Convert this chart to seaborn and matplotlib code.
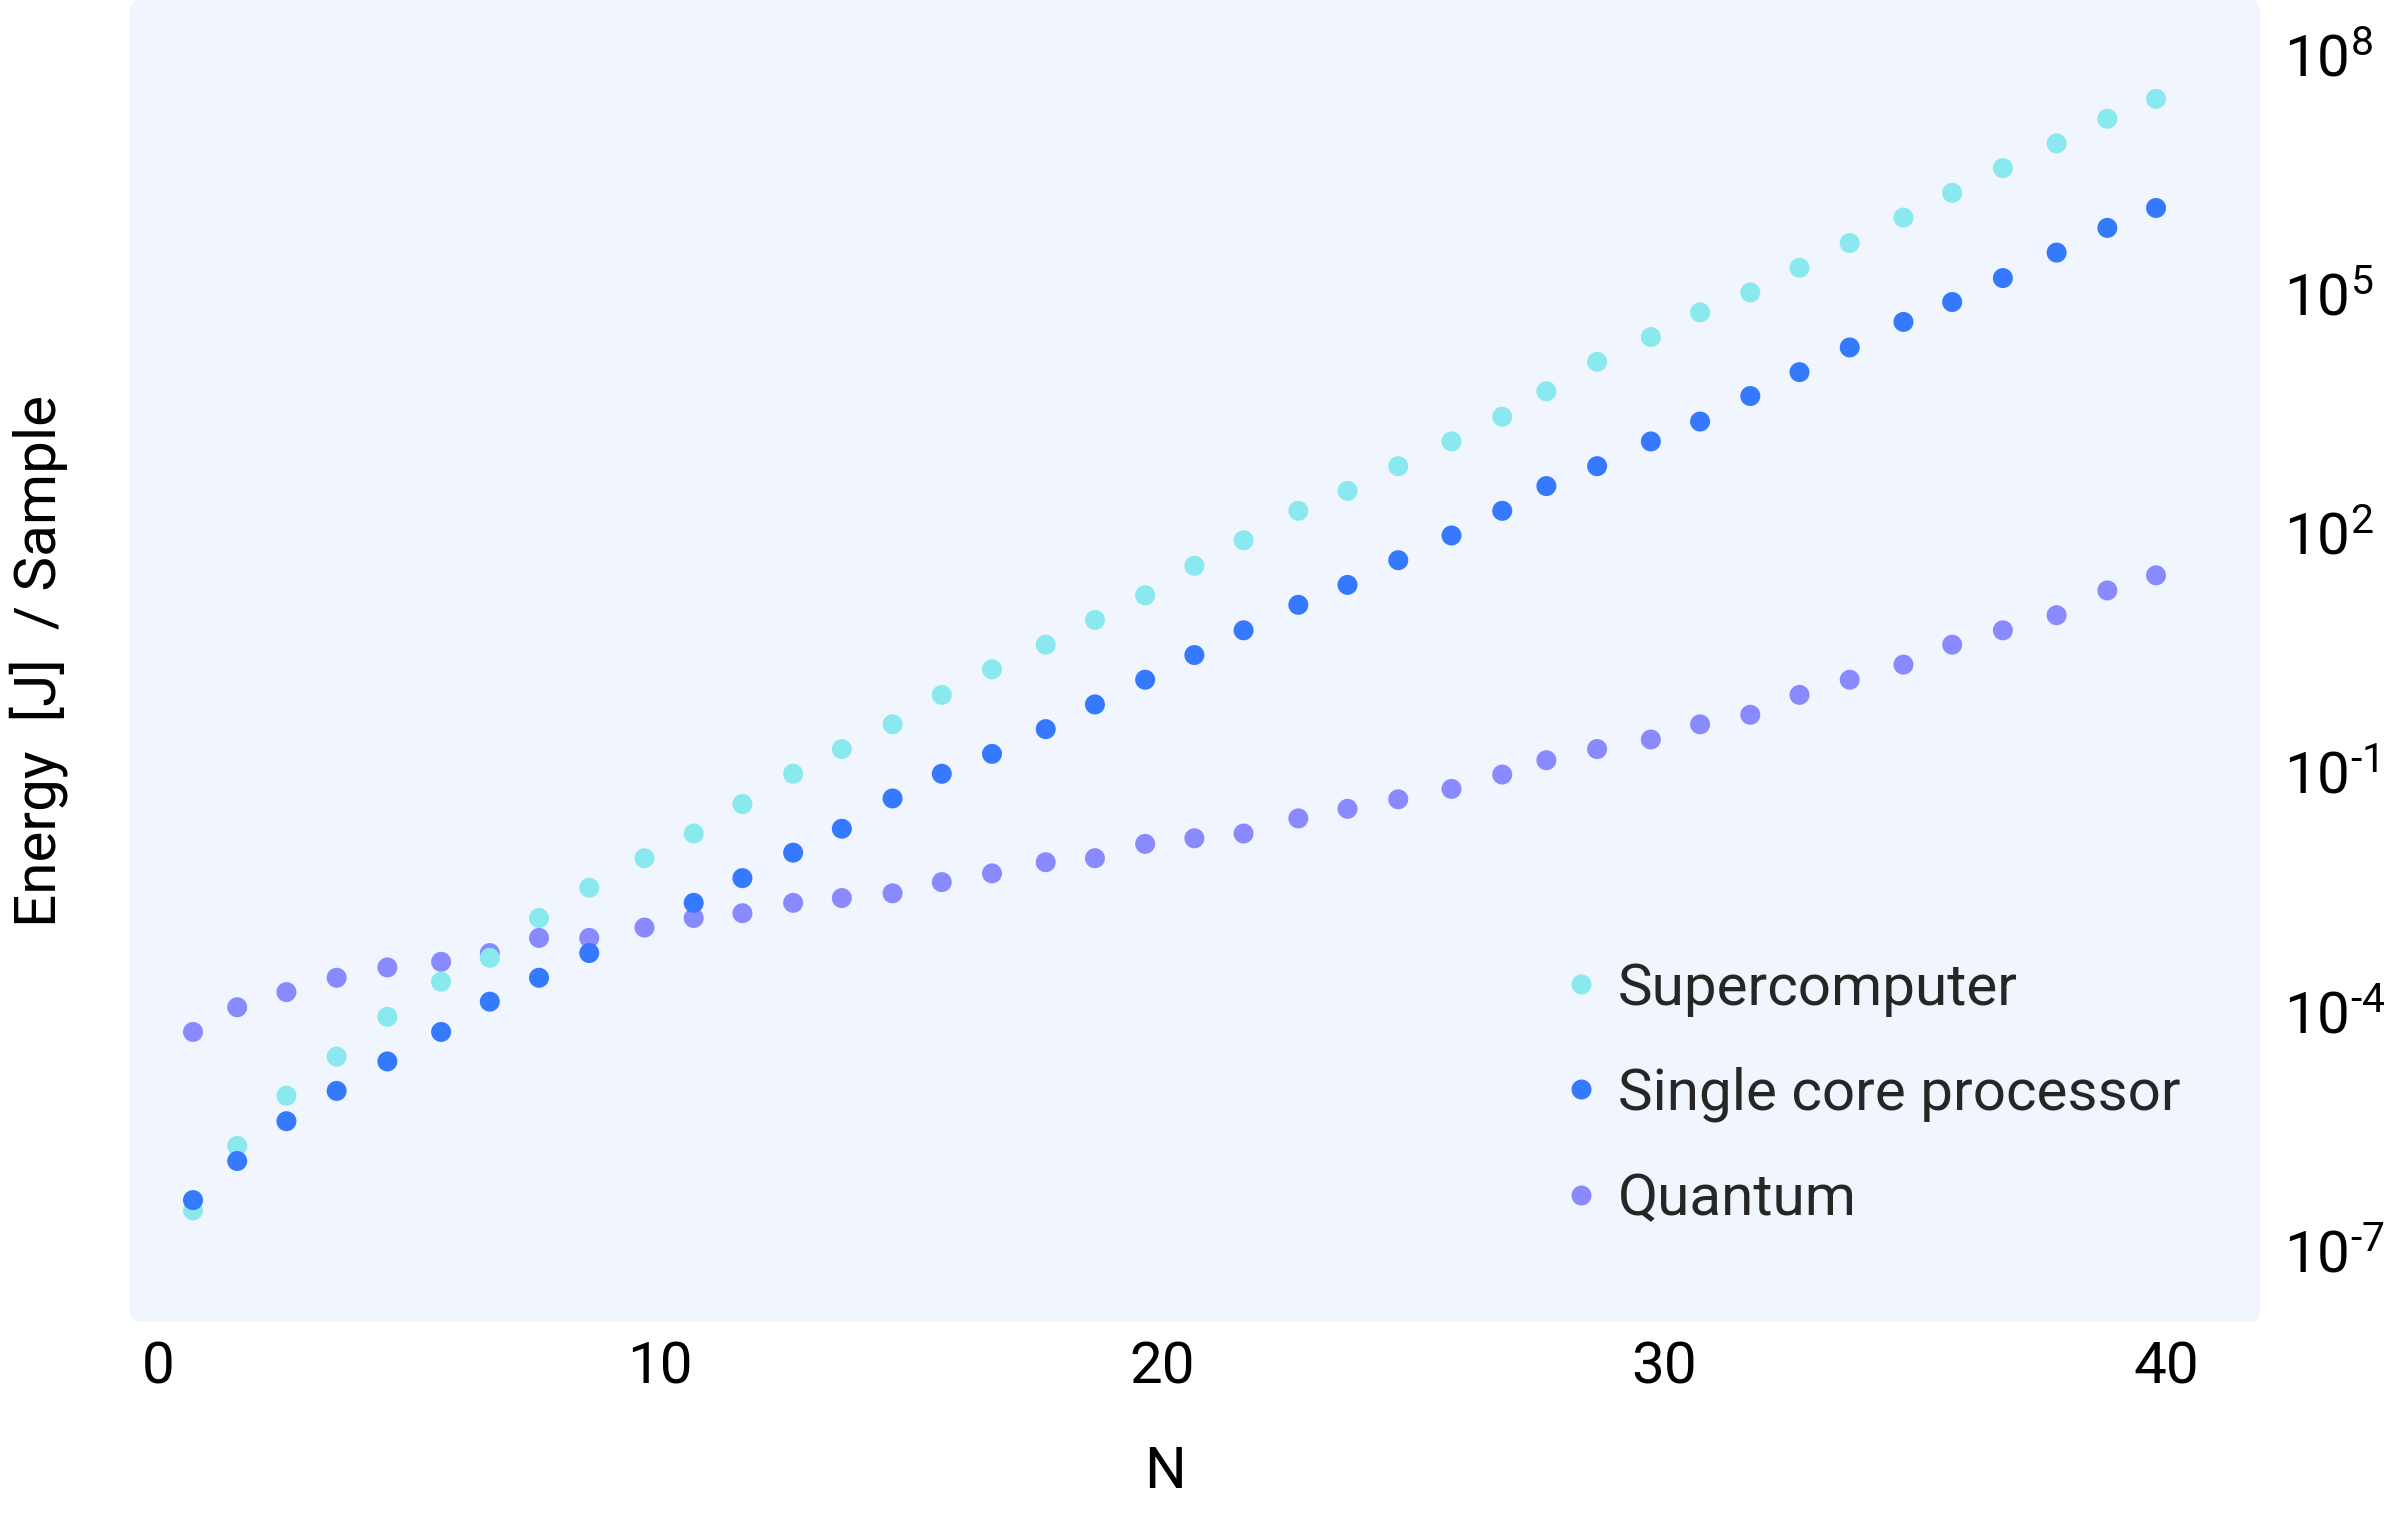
import numpy as np
import pandas as pd
import matplotlib
matplotlib.use("Agg")
import matplotlib.pyplot as plt
from matplotlib.patches import FancyBboxPatch
from matplotlib.ticker import NullLocator
import seaborn as sns

# ---------------- data ----------------
n_values = [0.70, 1.58, 2.56, 3.56, 4.57, 5.64, 6.61, 7.59, 8.59, 9.69,
            10.67, 11.64, 12.65, 13.62, 14.63, 15.61, 16.61, 17.68, 18.66, 19.66,
            20.64, 21.62, 22.71, 23.69, 24.70, 25.76, 26.77, 27.65, 28.66, 29.73,
            30.71, 31.71, 32.69, 33.69, 34.76, 35.73, 36.74, 37.81, 38.82, 39.79]

series_names = ["Supercomputer", "Single core processor", "Quantum"]

# log10 of energy [J] per sample
supercomputer_log10 = [-6.50, -5.69, -5.06, -4.57, -4.07, -3.63, -3.33, -2.83, -2.45, -2.08,
                       -1.77, -1.40, -1.02, -0.71, -0.40, -0.03, 0.29, 0.60, 0.91, 1.22,
                       1.59, 1.91, 2.28, 2.53, 2.84, 3.15, 3.46, 3.78, 4.15, 4.46,
                       4.77, 5.02, 5.33, 5.64, 5.96, 6.27, 6.58, 6.89, 7.20, 7.45]
single_core_log10 = [-6.37, -5.88, -5.38, -5.00, -4.63, -4.26, -3.88, -3.58, -3.27, np.nan,
                     -2.64, -2.33, -2.01, -1.71, -1.33, -1.02, -0.77, -0.46, -0.15, 0.16,
                     0.47, 0.78, 1.10, 1.35, 1.66, 1.97, 2.28, 2.59, 2.84, 3.15,
                     3.40, 3.72, 4.02, 4.33, 4.65, 4.90, 5.20, 5.52, 5.83, 6.08]
quantum_log10 = [-4.26, -3.95, -3.76, -3.58, -3.45, -3.38, -3.27, -3.08, -3.08, -2.95,
                 -2.83, -2.77, -2.64, -2.58, -2.52, -2.38, -2.27, -2.13, -2.08, -1.90,
                 -1.83, -1.77, -1.58, -1.46, -1.34, -1.21, -1.03, -0.85, -0.71, -0.59,
                 -0.40, -0.28, -0.03, 0.16, 0.35, 0.60, 0.78, 0.97, 1.28, 1.47]

y_tick_exponents = [8, 5, 2, -1, -4, -7]
x_ticks = [0, 10, 20, 30, 40]

colors = {"Supercomputer": "#8AE9EE",
          "Single core processor": "#3579FF",
          "Quantum": "#8A8AFF"}
bg_color = "#F1F5FE"

# ---------------- build table (draw order: Quantum, Supercomputer, Single core) ----------------
frames = []
for name, vals in [("Quantum", quantum_log10),
                   ("Supercomputer", supercomputer_log10),
                   ("Single core processor", single_core_log10)]:
    frames.append(pd.DataFrame({"N": n_values,
                                "Energy": np.power(10.0, np.array(vals, dtype=float)),
                                "Series": name}))
df = pd.concat(frames, ignore_index=True).dropna()

# ---------------- style ----------------
sns.set_theme(style="white")
plt.rcParams["font.family"] = ["Roboto", "DejaVu Sans"]
plt.rcParams["mathtext.fontset"] = "custom"
plt.rcParams["mathtext.rm"] = "Roboto"
plt.rcParams["mathtext.it"] = "Roboto"
plt.rcParams["mathtext.bf"] = "Roboto"

FS = 42
MARKER_S = 207

W, H = 2400, 1528
fig = plt.figure(figsize=(W / 100, H / 100), dpi=100)
ax_l, ax_r, ax_t, ax_b = 130, 2260, 0, 1322
ax = fig.add_axes([ax_l / W, 1 - ax_b / H, (ax_r - ax_l) / W, (ax_b - ax_t) / H])
ax.patch.set_visible(False)

bg = FancyBboxPatch((0, 0), 1, 1, boxstyle="round,pad=0,rounding_size=0.005",
                    mutation_aspect=(ax_r - ax_l) / (ax_b - ax_t),
                    transform=ax.transAxes, facecolor=bg_color, edgecolor="none",
                    zorder=0, clip_on=False)
ax.add_patch(bg)

sns.scatterplot(data=df, x="N", y="Energy", hue="Series", hue_order=series_names,
                palette=colors, s=MARKER_S, linewidth=0, ax=ax, zorder=2)

ax.set_yscale("log")
ax.set_ylim(10 ** -7.90, 10 ** 8.69)
ax.set_xlim(-0.555, 41.86)

ax.set_yticks([10.0 ** e for e in y_tick_exponents])
ax.set_yticklabels([r"$10^{\text{%d}}$" % e for e in y_tick_exponents])
ax.yaxis.set_minor_locator(NullLocator())
ax.set_xticks(x_ticks)
ax.set_xticklabels([str(t) for t in x_ticks])

ax.yaxis.tick_right()
ax.tick_params(axis="y", which="both", length=0, pad=17, labelsize=FS, colors="black")
ax.tick_params(axis="x", which="both", length=0, pad=13, labelsize=FS, colors="black")

for s in ax.spines.values():
    s.set_visible(False)
ax.grid(False)

ax.set_xlabel("N", fontsize=FS, color="black")
ax.xaxis.set_label_coords(0.486, -0.093)
ax.set_ylabel("Energy  [J]  / Sample", fontsize=FS, color="black")
ax.yaxis.set_label_position("left")
ax.yaxis.set_label_coords(-0.029, 0.5)

sns.move_legend(ax, "center left", bbox_to_anchor=(0.673, 0.172), frameon=False,
                title=None, fontsize=FS, handlelength=0.6, handletextpad=0.33,
                labelspacing=0.86, borderpad=0, borderaxespad=0)
leg = ax.get_legend()
for h in leg.legend_handles:
    if hasattr(h, "set_markersize"):
        h.set_markersize(np.sqrt(MARKER_S))
    elif hasattr(h, "set_sizes"):
        h.set_sizes([MARKER_S])

fig.savefig("out.png", dpi=100)
